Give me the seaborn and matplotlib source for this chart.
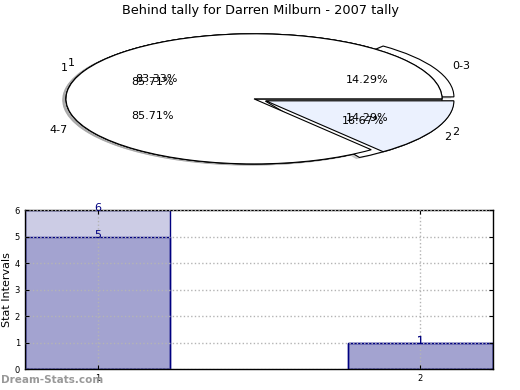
import matplotlib
matplotlib.use("Agg")
import matplotlib.pyplot as plt
from matplotlib.colors import to_rgba
import seaborn as sns

# pie data
interval_labels = ["0-3", "4-7"]
interval_counts = [1, 6]
tally_labels = ["1", "2"]
tally_first = [5, 1]
tally_second = [6, 1]

# bar data
bar_cats = ["1", "2"]
bar_totals = [6, 1]
bar_behinds = [5, 1]
y_ticks = [0, 1, 2, 3, 4, 5, 6]

NAVY = "#000080"
PALE = "#ebf1fe"

fig = plt.figure(figsize=(5.2, 3.9), dpi=100)
fig.text(0.5, 0.974, "Behind tally for Darren Milburn - 2007 tally",
         ha="center", va="center", fontsize=9.3)

# top: overlapping squashed pies
ax_pie = fig.add_axes([0.0365, 0.538, 0.904, 0.417])
wedge_kw = dict(edgecolor="black", linewidth=0.8)
text_kw = dict(fontsize=8)
shadow_kw = dict(ox=-0.012, oy=-0.012, shade=0.35)
ax_pie.pie(interval_counts, labels=interval_labels, explode=[0.07, 0],
           colors=["white", "white"], autopct="%.2f%%", shadow=shadow_kw,
           startangle=0, wedgeprops=wedge_kw, textprops=text_kw)
ax_pie.pie(tally_first, labels=tally_labels, explode=[0, 0.07],
           colors=["white", "white"], autopct="%.2f%%", shadow=shadow_kw,
           startangle=0, wedgeprops=wedge_kw, textprops=text_kw)
ax_pie.pie(tally_second, labels=tally_labels, explode=[0, 0.07],
           colors=["white", PALE], autopct="%.2f%%", shadow=shadow_kw,
           startangle=0, wedgeprops=wedge_kw, textprops=text_kw)
ax_pie.set_aspect("auto")
ax_pie.set_xlim(-1.25, 1.25)
ax_pie.set_ylim(-1.25, 1.25)
ax_pie.axis("off")

# bottom: overlaid bars
ax = fig.add_axes([0.048, 0.0538, 0.9, 0.4077])
for vals in (bar_totals, bar_behinds):
    sns.barplot(x=bar_cats, y=vals, ax=ax, color=NAVY,
                saturation=1, width=0.45, errorbar=None, linewidth=1)
    for i, v in enumerate(vals):
        ax.annotate(str(v), (i, v), xytext=(0, -2.5), textcoords="offset points",
                    ha="center", va="bottom", color=NAVY, fontsize=8)

for p in ax.patches:
    p.set_alpha(None)
    p.set_facecolor(to_rgba(NAVY, 0.2))
    p.set_edgecolor(NAVY)

ax.set_xlim(-0.225, 1.225)
ax.set_ylim(0, 6)
ax.set_yticks(y_ticks)
ax.set_xticks([0, 1])
ax.set_xticklabels(bar_cats)
ax.grid(True, linestyle=":", color="#b4b4b4", linewidth=1)
ax.set_axisbelow(False)
ax.tick_params(direction="in", labelsize=6, top=True, right=True, length=3)
for s in ax.spines.values():
    s.set_color("black")
    s.set_linewidth(1)
ax.set_ylabel("Stat Intervals", fontsize=8, labelpad=2)
ax.set_xlabel("Frequency", fontsize=8, labelpad=6)

fig.text(0.002, 0.026, "Dream-Stats.com", color="#999999", fontsize=7.5,
         fontweight="bold", ha="left", va="center")

fig.savefig("out.png", dpi=100)
